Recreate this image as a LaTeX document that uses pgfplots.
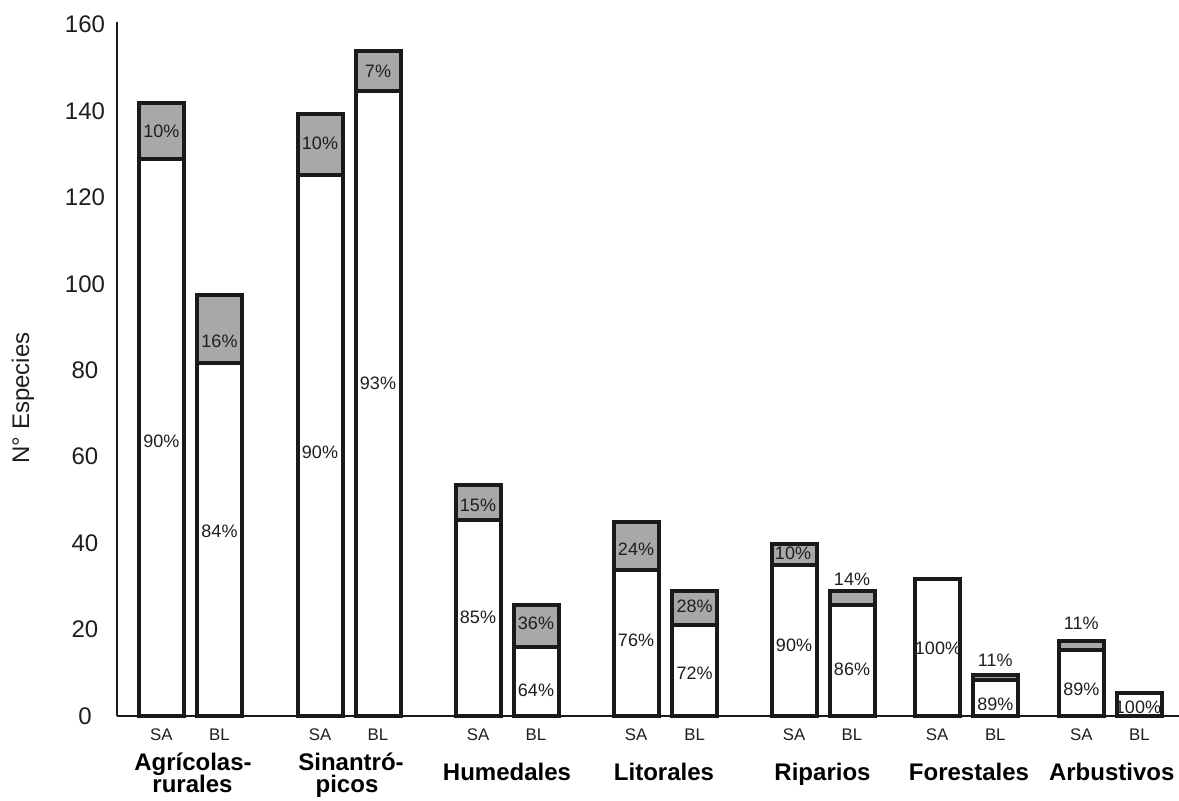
\documentclass[border=0pt]{standalone}
\usepackage{fontspec}
\setmainfont{Liberation Sans}
\usepackage{pgfplots}
\pgfplotsset{compat=1.18}
\definecolor{edge}{HTML}{1A1A1A}
\definecolor{grayfill}{HTML}{A8A8A8}
\definecolor{txt}{HTML}{1E1E1E}
\tikzset{
  pct/.style={font=\fontsize{9}{11}\selectfont, text=txt, inner sep=0pt},
  grp/.style={font=\fontsize{12}{14}\selectfont\bfseries, text=black, anchor=base, inner sep=0pt},
}
\pgfplotsset{
  common/.style={at={(58.5pt,42pt)}, anchor=south west,
    scale only axis, width=531pt, height=347pt,
    xmin=117, xmax=1179, ymin=0, ymax=160.6, clip=false},
}
\begin{document}
\begin{tikzpicture}
\useasboundingbox (0,0) rectangle (589.5pt,400pt);
\begin{axis}[
  common,
  axis x line*=bottom, axis y line*=left,
  axis line style={line width=0.6pt, draw=edge},
  ybar stacked, bar width=45,
  ytick={0,20,...,160},
  xtick={161.3,219.5,320,378,478,536,636,694.7,794,852,937,995.3,1081.3,1139.5},
  xticklabels={SA,BL,SA,BL,SA,BL,SA,BL,SA,BL,SA,BL,SA,BL},
  major tick length=0pt,
  /pgf/number format/assume math mode=true,
  yticklabel style={font=\fontsize{12}{14}\selectfont, anchor=center, xshift=-16pt, text=txt},
  xticklabel style={font=\fontsize{8.4}{10}\selectfont, anchor=base, yshift=-12pt, text=txt},
]
\addplot[fill=white, draw=edge, line width=2pt] coordinates {
 (161.3,129.0) (219.5,81.6) (320,125.3) (378,144.7) (478,45.3) (536,16.0) (636,33.8)
 (694.7,21.0) (794,34.9) (852,25.7) (937,31.8) (995.3,8.3) (1081.3,15.3) (1139.5,5.4)};
\addplot[fill=grayfill, draw=edge, line width=2pt] coordinates {
 (161.3,12.8) (219.5,15.8) (320,13.9) (378,9.1) (478,8.1) (536,9.8) (636,11.1)
 (694.7,7.9) (794,4.8) (852,3.2) (937,0) (995.3,1.2) (1081.3,2.0) (1139.5,0)};
\end{axis}
\begin{axis}[common, hide axis]
% white-part percentages
\node[pct] at (axis cs:161.3,63.6) {90\%};
\node[pct] at (axis cs:219.5,42.8) {84\%};
\node[pct] at (axis cs:320,61.1) {90\%};
\node[pct] at (axis cs:378,77.0) {93\%};
\node[pct] at (axis cs:478,22.9) {85\%};
\node[pct] at (axis cs:536,6.0) {64\%};
\node[pct] at (axis cs:636,17.6) {76\%};
\node[pct] at (axis cs:694.7,9.9) {72\%};
\node[pct] at (axis cs:794,16.4) {90\%};
\node[pct] at (axis cs:852,10.9) {86\%};
\node[pct] at (axis cs:938,15.6) {100\%};
\node[pct] at (axis cs:995.3,2.7) {89\%};
\node[pct] at (axis cs:1081.3,6.2) {89\%};
\node[pct] at (axis cs:1138,2.1) {100\%};
% gray-part percentages
\node[pct] at (axis cs:161.3,135.4) {10\%};
\node[pct] at (axis cs:219.5,86.6) {16\%};
\node[pct] at (axis cs:320,132.5) {10\%};
\node[pct] at (axis cs:378,149.2) {7\%};
\node[pct] at (axis cs:478,48.8) {15\%};
\node[pct] at (axis cs:536,21.5) {36\%};
\node[pct] at (axis cs:636,38.6) {24\%};
\node[pct] at (axis cs:694.7,25.5) {28\%};
\node[pct] at (axis cs:793,37.6) {10\%};
\node[pct] at (axis cs:852,31.7) {14\%};
\node[pct] at (axis cs:995.3,13.0) {11\%};
\node[pct] at (axis cs:1081.3,21.5) {11\%};
% group labels
\node[grp, text depth=0pt] at (axis cs:193,-12.5) {Agrícolas-};
\node[grp, text height=1.6ex] at (axis cs:192.5,-17.6) {rurales};
\node[grp, text depth=0pt] at (axis cs:351,-12.5) {Sinantró-};
\node[grp, text height=1.6ex] at (axis cs:347,-17.6) {picos};
\node[grp] at (axis cs:507,-15.04) {Humedales};
\node[grp] at (axis cs:664,-15.04) {Litorales};
\node[grp] at (axis cs:822.5,-15.04) {Riparios};
\node[grp] at (axis cs:969,-15.04) {Forestales};
\node[grp] at (axis cs:1111.7,-15.04) {Arbustivos};
% y label
\node[font=\fontsize{12}{14}\selectfont, text=txt, rotate=90] at (axis cs:23,73.6) {N° Especies};
\end{axis}
\end{tikzpicture}
\end{document}
